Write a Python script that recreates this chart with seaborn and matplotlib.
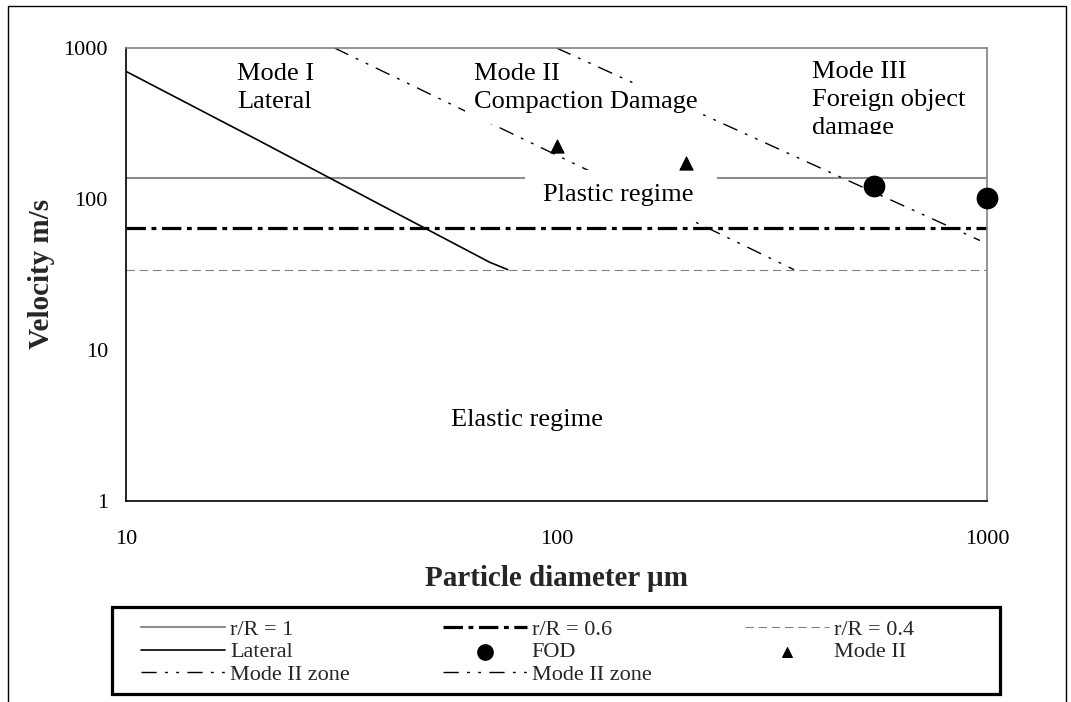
import matplotlib
matplotlib.use("Agg")
import matplotlib.pyplot as plt
from matplotlib.patches import Rectangle
from matplotlib.ticker import FixedLocator, FixedFormatter, NullLocator
import seaborn as sns

# ---------------- data ----------------
diam_range = [10, 1000]
r1_v = [138, 138]          # r/R = 1
r06_v = [64, 64]           # r/R = 0.6
r04_v = [34, 34]           # r/R = 0.4

lateral_d = [10, 20, 40, 70, 77]
lateral_v = [700, 250, 88, 38, 34]

zone1_d = [30.5, 356]
zone1_v = [1000, 34]
zone2_d = [100, 963]
zone2_v = [1000, 53]

fod_d = [547, 1000]
fod_v = [122, 101]
mode2_d = [100, 200]
mode2_v = [225, 173]

xticks = [10, 100, 1000]
xtick_labels = ["10", "100", "1000"]
yticks = [1, 10, 100, 1000]
ytick_labels = ["1", "10", "100", "1000"]

# ---------------- style ----------------
sns.set_theme(style="white")
plt.rcParams["font.family"] = ["Liberation Serif", "DejaVu Serif"]
plt.rcParams["lines.scale_dashes"] = False

W, H = 1071, 702
fig = plt.figure(figsize=(W / 100, H / 100), dpi=100)
ax = fig.add_axes([126 / W, 1 - 500.7 / H, (987 - 126) / W, (500.7 - 48) / H])
ax.set_xscale("log")
ax.set_yscale("log")

def line(x, y, color, lw, label, dashes=None):
    sns.lineplot(x=x, y=y, ax=ax, color=color, linewidth=lw, label=label,
                 sort=False, estimator=None)
    ln = ax.lines[-1]
    if dashes is not None:
        ln.set_dashes(dashes)
    return ln

line(diam_range, r1_v, "#8c8c8c", 1.5, "r/R = 1")
line(diam_range, r06_v, "black", 2.3, "r/R = 0.6", dashes=(14, 4, 3.5, 4))
line(diam_range, r04_v, "#808080", 0.8, "r/R = 0.4", dashes=(6, 3.5))
line(lateral_d, lateral_v, "black", 1.2, "Lateral")
zdash = (11, 6, 2, 6, 2, 6)
line(zone1_d, zone1_v, "black", 1.0, "Mode II zone", dashes=zdash)
line(zone2_d, zone2_v, "black", 1.0, "Mode II zone ", dashes=zdash)

sns.scatterplot(x=fod_d, y=fod_v, ax=ax, marker="o", s=210, color="black",
                edgecolor="black", label="FOD", zorder=6, clip_on=False)
sns.scatterplot(x=mode2_d, y=mode2_v, ax=ax, marker="^", s=90, color="black",
                edgecolor="black", label="Mode II", zorder=6, clip_on=False)

if ax.get_legend() is not None:
    ax.get_legend().remove()

ax.set_xlim(10, 1000)
ax.set_ylim(1, 1000)
ax.xaxis.set_major_locator(FixedLocator(xticks))
ax.xaxis.set_major_formatter(FixedFormatter(xtick_labels))
ax.yaxis.set_major_locator(FixedLocator(yticks))
ax.yaxis.set_major_formatter(FixedFormatter(ytick_labels))
ax.xaxis.set_minor_locator(NullLocator())
ax.yaxis.set_minor_locator(NullLocator())
ax.tick_params(axis="both", which="major", direction="out", length=6,
               width=1, color="black", labelsize=16, labelcolor="black")
ax.tick_params(axis="x", pad=15)
ax.tick_params(axis="y", pad=7)
ax.grid(False)

for s in ["top", "right"]:
    ax.spines[s].set_color("#808080")
    ax.spines[s].set_linewidth(1.2)
for s in ["left", "bottom"]:
    ax.spines[s].set_color("black")
    ax.spines[s].set_linewidth(1.2)

ax.set_xlabel("Particle diameter µm", fontsize=21, fontweight="bold")
ax.set_ylabel("Velocity m/s", fontsize=21, fontweight="bold")
ax.xaxis.set_label_coords(0.5, (500.7 - 578) / 452.7)
ax.xaxis.label.set_va("center")
ax.yaxis.set_label_coords((42 - 126) / 861, 0.5)
ax.yaxis.label.set_va("center")

# white text boxes that hide the lines behind them
def px_box(x0, x1, y0, y1):
    return Rectangle(((x0 - 126) / 861, (500.7 - y1) / 452.7),
                     (x1 - x0) / 861, (y1 - y0) / 452.7,
                     transform=ax.transAxes, facecolor="white",
                     edgecolor="none", zorder=4)

ax.add_patch(px_box(465, 700, 84, 124))
ax.add_patch(px_box(525, 717, 170, 222))

tkw = dict(transform=ax.transAxes, fontsize=19, color="black", zorder=5,
           linespacing=1.35)
ax.text((237 - 126) / 861, (500.7 - 88) / 452.7, "Mode I\nLateral",
        ha="left", va="center", **tkw)
ax.text((474 - 126) / 861, (500.7 - 88) / 452.7,
        "Mode II\nCompaction Damage", ha="left", va="center", **tkw)
t3 = ax.text((812 - 126) / 861, (500.7 - 100) / 452.7,
             "Mode III\nForeign object\ndamage", ha="left", va="center",
             clip_on=True, **tkw)
clip = Rectangle((0, (500.7 - 134) / 452.7), 1, 1, transform=ax.transAxes)
t3.set_clip_path(clip)
ax.text((618 - 126) / 861, (500.7 - 195) / 452.7, "Plastic regime",
        ha="center", va="center", **tkw)
ax.text((527 - 126) / 861, (500.7 - 420) / 452.7, "Elastic regime",
        ha="center", va="center", **tkw)

# legend (row-wise order as in the reference)
h, l = ax.get_legend_handles_labels()
hd = dict(zip(l, h))
order = ["r/R = 1", "Lateral", "Mode II zone",
         "r/R = 0.6", "FOD", "Mode II zone ",
         "r/R = 0.4", "Mode II"]
fig.legend([hd[k] for k in order], [k.strip() for k in order],
           loc="upper left", bbox_to_anchor=(141 / W, 1 - 619 / H),
           ncol=3, frameon=False, fontsize=16, borderpad=0,
           borderaxespad=0, handlelength=3.8, handletextpad=0.2,
           columnspacing=4.2, labelspacing=0.1, markerscale=0.75)
fig.add_artist(Rectangle((112 / W, 1 - 694 / H), (1000 - 112) / W,
                         (694 - 607) / H, transform=fig.transFigure,
                         facecolor="none", edgecolor="black", linewidth=2.3))

# outer figure frame
fig.add_artist(Rectangle((8 / W, -0.05), (1066 - 8) / W, 1 - 6 / H + 0.05,
                         transform=fig.transFigure, facecolor="none",
                         edgecolor="black", linewidth=1.0))

fig.savefig("out.png", dpi=100)
